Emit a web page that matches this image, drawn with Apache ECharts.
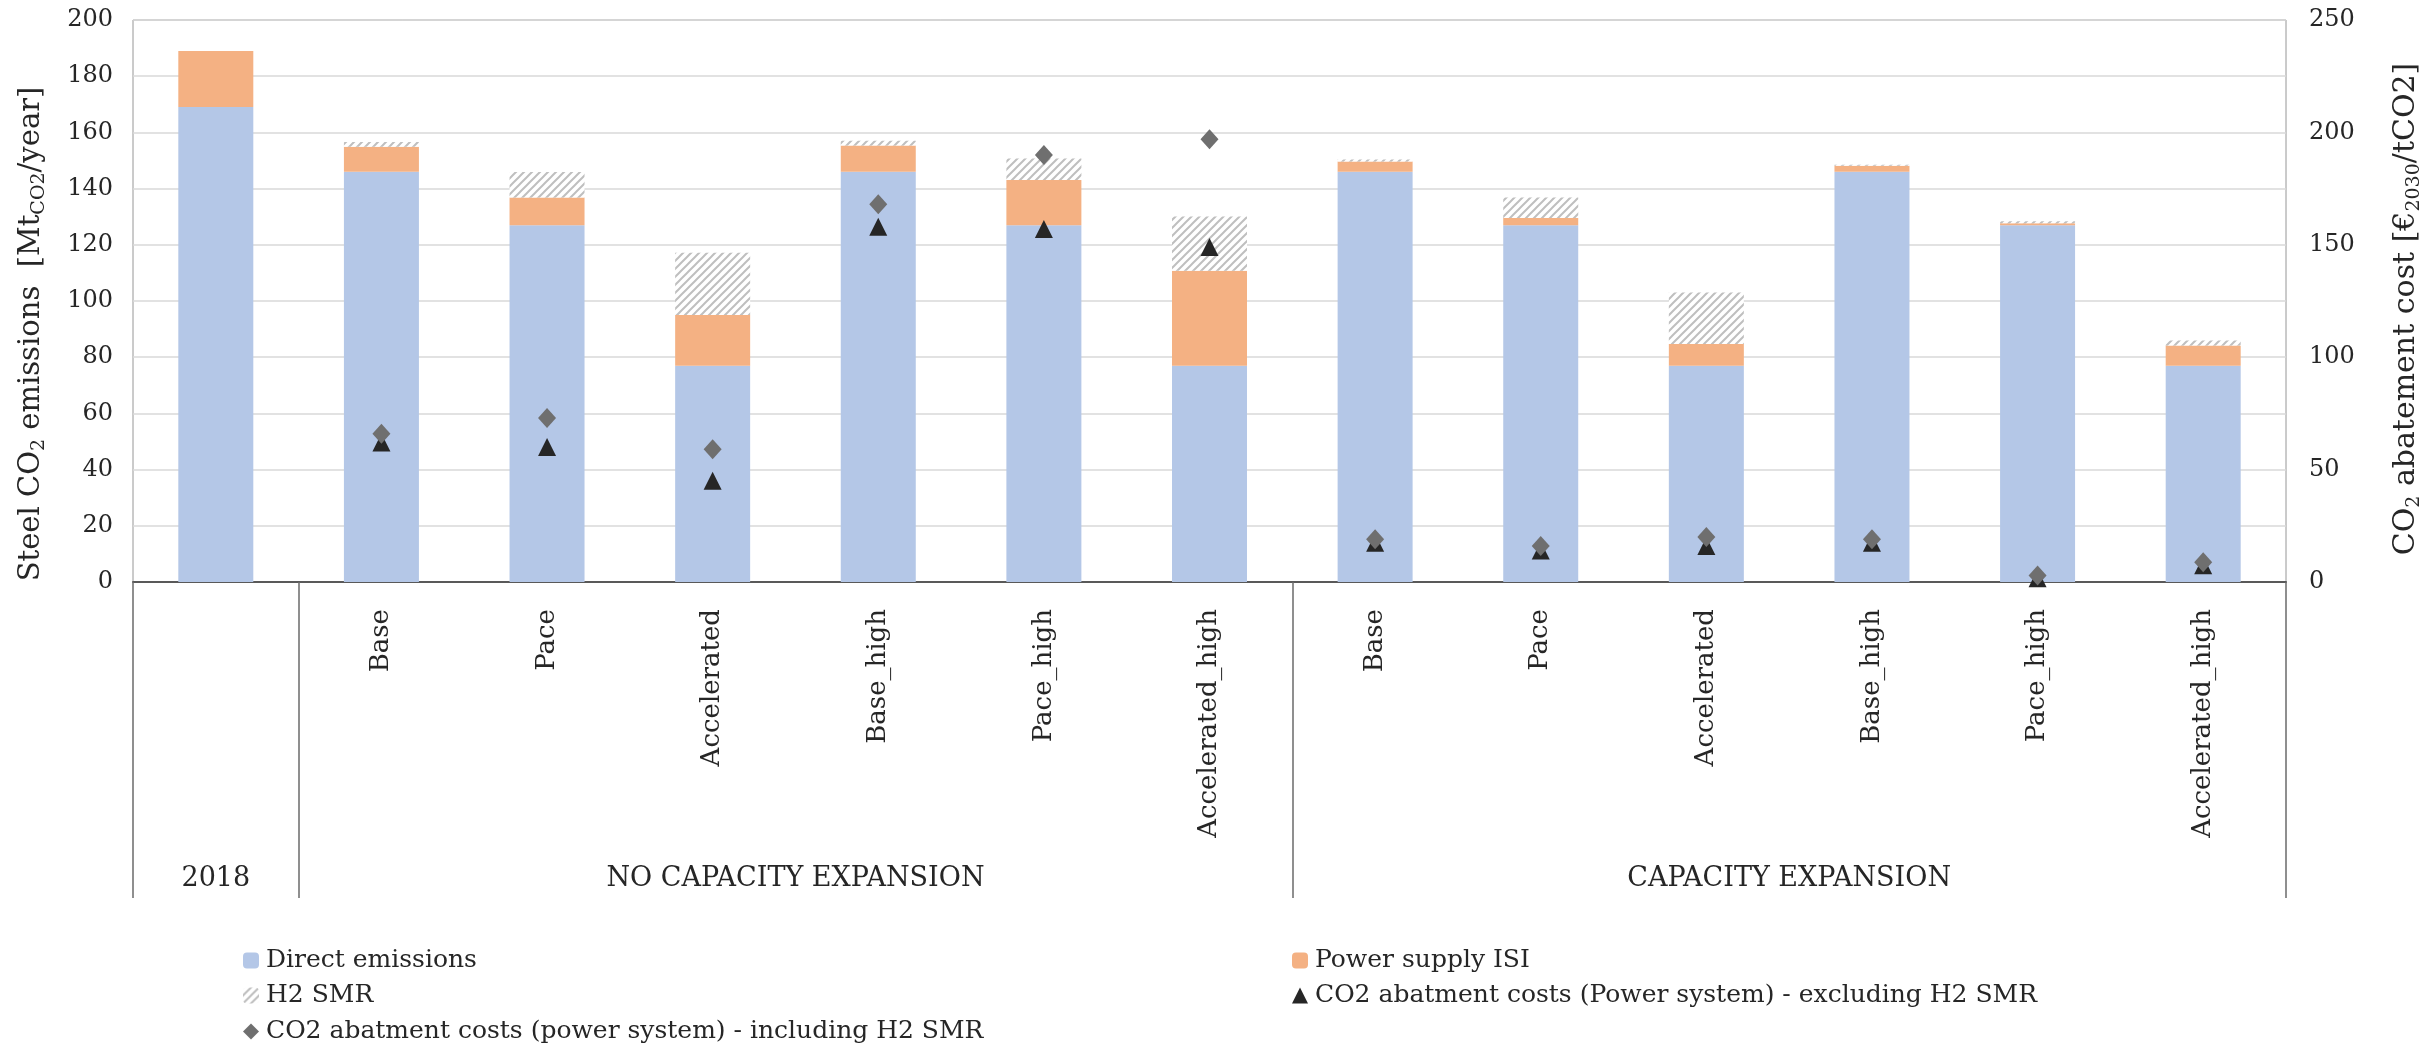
<!DOCTYPE html>
<html>
<head>
<meta charset="utf-8">
<script src="https://cdn.jsdelivr.net/npm/echarts@6/dist/echarts.min.js"></script>
<style>
  html, body { margin: 0; padding: 0; background: #ffffff; }
  #chart { width: 2429px; height: 1045px; }
</style>
</head>
<body>
<div id="chart"></div>
<script>
// Scenario labels under each bar (the 2018 bar is labelled by its group only)
const scenarioLabels = ['', 'Base', 'Pace', 'Accelerated', 'Base_high', 'Pace_high', 'Accelerated_high',
                        'Base', 'Pace', 'Accelerated', 'Base_high', 'Pace_high', 'Accelerated_high'];
// Scenario groups and how many bars each one spans
const groupNames = ['2018', 'NO CAPACITY EXPANSION', 'CAPACITY EXPANSION'];
const groupSpans = [1, 6, 6];

// Steel CO2 emissions [Mt CO2 / year]
const directEmissions = [169, 146, 127, 77, 146, 127, 77, 146, 127, 77, 146, 127, 77];
const powerSupplyISI  = [20, 8.9, 9.8, 18, 9.3, 16.1, 33.8, 3.6, 2.5, 7.7, 2.1, 0.7, 7.2];
const h2SMR           = [0, 1.7, 9.1, 22.2, 1.7, 7.6, 19.3, 0.8, 7.3, 18.3, 0.4, 0.7, 1.7];

// CO2 abatement cost [EUR2030 / tCO2]
const costExclH2 = [null, 62, 60, 45, 158, 157, 149, 17.5, 14, 16, 17.5, 1.7, 7.5];
const costInclH2 = [null, 66, 73, 59, 168, 190, 197, 19, 16, 20, 19, 2.9, 8.8];

// Tick settings
const leftTicks = { min: 0, max: 200, interval: 20 };
const rightTicks = { min: 0, max: 250, interval: 50 };

const seriesNames = [
  'Direct emissions',
  'Power supply ISI',
  'H2 SMR',
  'CO2 abatment costs (Power system) - excluding H2 SMR',
  'CO2 abatment costs (power system) - including H2 SMR'
];

// Diagonal hatch used for the H2 SMR segment
function hatchPattern() {
  const c = document.createElement('canvas');
  c.width = 8; c.height = 8;
  const g = c.getContext('2d');
  g.fillStyle = '#ffffff';
  g.fillRect(0, 0, 8, 8);
  g.strokeStyle = '#bfbfbf';
  g.lineWidth = 2;
  g.beginPath();
  g.moveTo(-2, 10); g.lineTo(10, -2);
  g.moveTo(-6, 6); g.lineTo(6, -6);
  g.moveTo(2, 14); g.lineTo(14, 2);
  g.stroke();
  return { image: c, repeat: 'repeat' };
}

// Group boundaries and centres on a 0..N scale
const boundaries = [0];
const groupCentres = [];
groupSpans.forEach(function (s) {
  const start = boundaries[boundaries.length - 1];
  groupCentres.push(start + s / 2);
  boundaries.push(start + s);
});

const categoryIds = scenarioLabels.map(function (s, i) { return String(i); });
const FONT = 'DejaVu Serif';
const TXT = '#262626';

const subRich = {
  sub: { fontSize: 19, lineHeight: 19, verticalAlign: 'bottom', fontFamily: FONT, color: TXT }
};

// One legend block per entry: two columns, three rows
const legendSlots = [
  { name: seriesNames[0], left: 243, top: 948 },
  { name: seriesNames[1], left: 1292, top: 948 },
  { name: seriesNames[2], left: 243, top: 983 },
  { name: seriesNames[3], left: 1292, top: 983 },
  { name: seriesNames[4], left: 243, top: 1019 }
];

const chart = echarts.init(document.getElementById('chart'), null, { renderer: 'canvas' });

chart.setOption({
  animation: false,
  backgroundColor: '#ffffff',
  textStyle: { fontFamily: FONT, color: TXT },
  grid: {
    left: 133, right: 143, top: 20, bottom: 463,
    outerBoundsMode: 'none',
    show: true, borderColor: '#969696', borderWidth: 1, backgroundColor: 'transparent'
  },
  legend: legendSlots.map(function (s) {
    return {
      data: [s.name],
      left: s.left, top: s.top, padding: 0,
      itemWidth: 16, itemHeight: 16, itemGap: 0,
      textStyle: { fontSize: 25, color: TXT, fontFamily: FONT, padding: [0, 0, 0, 2] }
    };
  }),
  xAxis: [
    {
      type: 'category',
      data: categoryIds,
      axisLine: { show: true, lineStyle: { color: '#595959', width: 2 } },
      axisTick: { show: false },
      axisLabel: {
        interval: 0, rotate: 90, margin: 27, fontSize: 26, color: TXT, fontFamily: FONT,
        formatter: function (v, i) { return scenarioLabels[i]; }
      },
      splitLine: { show: false }
    },
    {
      type: 'value',
      min: 0, max: scenarioLabels.length,
      position: 'bottom',
      axisLine: { show: false },
      axisTick: {
        show: true, customValues: boundaries, length: 316,
        lineStyle: { color: '#6b6b6b', width: 1.5 }
      },
      axisLabel: {
        show: true, customValues: groupCentres, margin: 283, fontSize: 27, color: TXT, fontFamily: FONT,
        formatter: function (v) {
          const idx = groupCentres.indexOf(v);
          return idx >= 0 ? groupNames[idx] : '';
        }
      },
      splitLine: { show: false }
    }
  ],
  yAxis: [
    {
      type: 'value',
      min: leftTicks.min, max: leftTicks.max, interval: leftTicks.interval,
      axisLine: { show: false },
      axisTick: { show: false },
      axisLabel: { fontSize: 24, color: TXT, margin: 20, fontFamily: FONT },
      splitLine: { lineStyle: { color: '#d9d9d9', width: 1.5 } },
      name: 'Steel CO{sub|2} emissions  [Mt{sub|CO2}/year]',
      nameLocation: 'middle',
      nameGap: 84,
      nameTextStyle: {
        fontSize: 29, color: TXT, fontFamily: FONT, lineHeight: 36, rich: subRich,
        padding: [0, 66, 0, 0]
      }
    },
    {
      type: 'value',
      position: 'right',
      min: rightTicks.min, max: rightTicks.max, interval: rightTicks.interval,
      axisLine: { show: false },
      axisTick: { show: false },
      axisLabel: { fontSize: 24, color: TXT, margin: 23, fontFamily: FONT },
      splitLine: { show: false },
      name: 'CO{sub|2} abatement cost [€{sub|2030}/tCO2]',
      nameLocation: 'middle',
      nameGap: 102,
      nameTextStyle: {
        fontSize: 30, color: TXT, fontFamily: FONT, lineHeight: 36, rich: subRich,
        padding: [0, 16, 0, 0]
      }
    }
  ],
  series: [
    {
      name: seriesNames[0], type: 'bar', stack: 'emissions', barWidth: 75,
      xAxisIndex: 0, yAxisIndex: 0,
      itemStyle: { color: '#b4c7e7' },
      data: directEmissions
    },
    {
      name: seriesNames[1], type: 'bar', stack: 'emissions', barWidth: 75,
      xAxisIndex: 0, yAxisIndex: 0,
      itemStyle: { color: '#f4b183' },
      data: powerSupplyISI
    },
    {
      name: seriesNames[2], type: 'bar', stack: 'emissions', barWidth: 75,
      xAxisIndex: 0, yAxisIndex: 0,
      itemStyle: { color: hatchPattern() },
      data: h2SMR
    },
    {
      name: seriesNames[3], type: 'scatter',
      xAxisIndex: 0, yAxisIndex: 1,
      symbol: 'triangle', symbolSize: [18, 18],
      itemStyle: { color: '#262626', opacity: 1 },
      data: costExclH2
    },
    {
      name: seriesNames[4], type: 'scatter',
      xAxisIndex: 0, yAxisIndex: 1,
      symbol: 'diamond', symbolSize: [18, 20],
      itemStyle: { color: '#6f6f6f', opacity: 1 },
      data: costInclH2
    }
  ]
});
</script>
</body>
</html>
